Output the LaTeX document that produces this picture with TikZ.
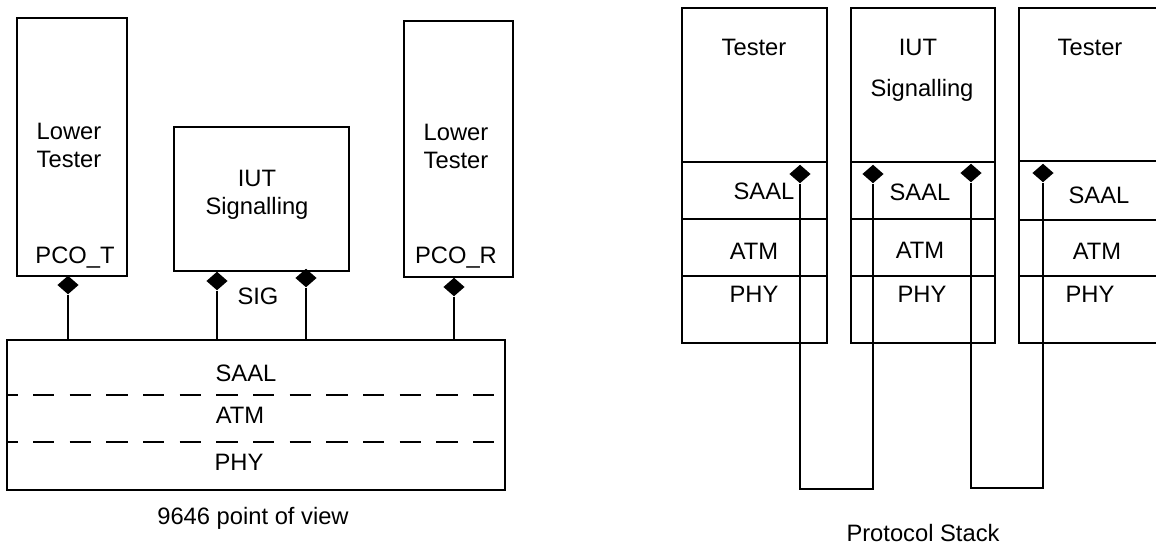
\documentclass[tikz,border=0pt]{standalone}
\usepackage{fontspec}
\setmainfont{Liberation Sans}
\usetikzlibrary{shapes.geometric}

\begin{document}
\begin{tikzpicture}[x=0.75pt,y=-0.75pt,
  box/.style={line width=2pt},
  wire/.style={line width=1.2pt},
  lbl/.style={inner sep=0pt,align=center,font=\fontsize{17.8}{21}\selectfont},
  port/.style={diamond,fill=black,inner sep=0pt,minimum width=16pt,minimum height=14pt}]
\useasboundingbox (0,0) rectangle (1156,546);
% 9646 point of view
\draw[box] (17,18) rectangle (127,276);
\draw[box] (174,127) rectangle (349,271);
\draw[box] (404,21) rectangle (513,277);
\draw[box] (7,340) rectangle (505,490);
\draw[box,dash pattern=on 16pt off 11.5pt,dash phase=8pt] (7,395) -- (505,395);
\draw[box,dash pattern=on 16pt off 11.5pt,dash phase=8pt] (7,442) -- (505,442);
\coordinate (stacktop) at (256,340);
\node[lbl] (ltT) at (69,145) {Lower\\Tester};
\node[lbl] (ltR) at (456,146) {Lower\\Tester};
\node[lbl] (pcoT) at (75,258) {PCO\_T};
\node[lbl] (pcoR) at (456,258) {PCO\_R};
\node[lbl] (iut) at (257,195) {IUT\\Signalling};
\node[lbl] (sig) at (258,296) {SIG};
\node[lbl] (saal) at (246,373) {SAAL};
\node[lbl] (atm) at (240,415) {ATM};
\node[lbl] (phy) at (239,462) {PHY};
\node[lbl] (view) at (253,518) {9646 point of view};
\node[port] (pT) at (68,285) {};
\node[port] (sigL) at (217,281) {};
\node[port] (sigR) at (306,278) {};
\node[port] (pR) at (454,287) {};
\draw[wire] (pT.south) -- (pT.south |- stacktop);
\draw[wire] (sigL.south) -- (sigL.south |- stacktop);
\draw[wire] (sigR.south) -- (sigR.south |- stacktop);
\draw[wire] (pR.south) -- (pR.south |- stacktop);
% Protocol Stack
\draw[box] (682,8) rectangle (827,343);
\draw[box] (682,162) -- (827,162) (682,219) -- (827,219) (682,276) -- (827,276);
\draw[box] (851,8) rectangle (995,343);
\draw[box] (851,162) -- (995,162) (851,219) -- (995,219) (851,276) -- (995,276);
\draw[box] (1019,8) rectangle (1170,343);
\draw[box] (1019,161) -- (1170,161) (1019,220) -- (1170,220) (1019,276) -- (1170,276);
\node[lbl] (tst1) at (754,47) {Tester};
\node[lbl] (iut2) at (918,47) {IUT};
\node[lbl] (sgn2) at (922,90) {Signalling};
\node[lbl] (tst3) at (1090,47) {Tester};
\node[lbl] (saal1) at (764,191) {SAAL};
\node[lbl] (atm1) at (754,251) {ATM};
\node[lbl] (phy1) at (754,294) {PHY};
\node[lbl] (saal2) at (920,192) {SAAL};
\node[lbl] (atm2) at (920,250) {ATM};
\node[lbl] (phy2) at (922,294) {PHY};
\node[lbl] (saal3) at (1099,195) {SAAL};
\node[lbl] (atm3) at (1097,251) {ATM};
\node[lbl] (phy3) at (1090,294) {PHY};
\node[lbl] (stack) at (923,533) {Protocol Stack};
\node[port] (s1) at (800,174) {};
\node[port] (s2) at (873,174) {};
\node[port] (s3) at (971,173) {};
\node[port] (s4) at (1043,173) {};
\coordinate (loopA) at (836,489);
\coordinate (loopB) at (1007,488);
\draw[wire] (s1.south) |- (loopA) -| (s2.south);
\draw[wire] (s3.south) |- (loopB) -| (s4.south);
\end{tikzpicture}
\end{document}
